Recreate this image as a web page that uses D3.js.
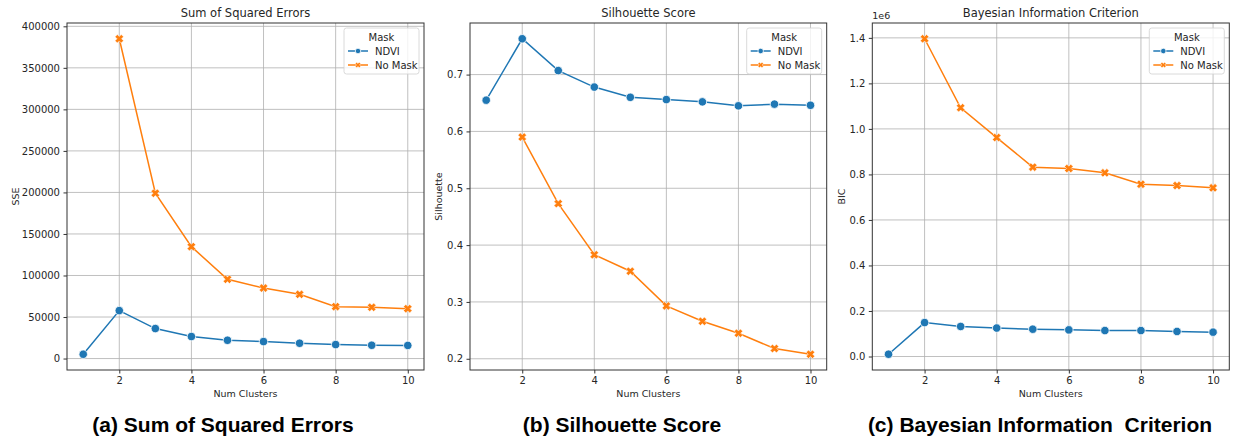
<!DOCTYPE html>
<html>
<head>
<meta charset="utf-8">
<script src="https://cdn.jsdelivr.net/npm/d3@7"></script>
<style>
  body { margin: 0; background: #fff; }
  svg { display: block; }
  text { font-family: "DejaVu Sans", sans-serif; fill: #262626; }
  .caption { font-family: "Liberation Sans", Arial, sans-serif; font-weight: bold; fill: #000; white-space: pre; }
</style>
</head>
<body>
<svg id="container" width="1233" height="439"></svg>
<script>
// ---- data ----
const clusters = [1, 2, 3, 4, 5, 6, 7, 8, 9, 10];
const noMaskClusters = [2, 3, 4, 5, 6, 7, 8, 9, 10];
const xTicks = [2, 4, 6, 8, 10];

const sseNdvi = [5200, 57700, 36100, 26500, 22000, 20400, 18400, 16800, 16000, 15800];
const sseNoMask = [385000, 199000, 134700, 95400, 84900, 77300, 62500, 61700, 60100];
const sseTicks = [0, 50000, 100000, 150000, 200000, 250000, 300000, 350000, 400000];

const silNdvi = [0.655, 0.763, 0.707, 0.678, 0.660, 0.656, 0.652, 0.645, 0.648, 0.646];
const silNoMask = [0.590, 0.473, 0.383, 0.354, 0.293, 0.266, 0.245, 0.218, 0.208];
const silTicks = [0.2, 0.3, 0.4, 0.5, 0.6, 0.7];

// BIC in units of 1e6
const bicNdvi = [0.010, 0.149, 0.132, 0.125, 0.120, 0.117, 0.114, 0.114, 0.110, 0.107];
const bicNoMask = [1.396, 1.093, 0.962, 0.832, 0.826, 0.807, 0.757, 0.751, 0.741];
const bicTicks = [0.0, 0.2, 0.4, 0.6, 0.8, 1.0, 1.2, 1.4];

const seriesNames = ['NDVI', 'No Mask'];
const colors = ['#1f77b4', '#ff7f0e'];

const svg = d3.select('#container');
const plotTop = 23, plotBottom = 370;

const panels = [
  { left: 67, right: 424, title: 'Sum of Squared Errors', ylabel: 'SSE', ylabelX: 19,
    caption: '(a) Sum of Squared Errors', captionX: 223,
    ndvi: sseNdvi, noMask: sseNoMask, ticks: sseTicks, fmt: d3.format('d') },
  { left: 470, right: 826.7, title: 'Silhouette Score', ylabel: 'Silhouette', ylabelX: 442,
    caption: '(b) Silhouette Score', captionX: 622,
    ndvi: silNdvi, noMask: silNoMask, ticks: silTicks, fmt: d3.format('.1f') },
  { left: 872.3, right: 1229.3, title: 'Bayesian Information Criterion', ylabel: 'BIC', ylabelX: 845,
    caption: '(c) Bayesian Information  Criterion', captionX: 1040,
    ndvi: bicNdvi, noMask: bicNoMask, ticks: bicTicks, fmt: d3.format('.1f'), offset: '1e6' },
];

// matplotlib's filled "X" marker
function xMarker(s) {
  const a = s * 0.5, w = s * 0.27;
  const pts = [[0, -w], [a - w, -a], [a, -a + w], [w, 0], [a, a - w], [a - w, a],
               [0, w], [-a + w, a], [-a, a - w], [-w, 0], [-a, -a + w], [-a + w, -a]];
  return 'M' + pts.map(p => p.join(',')).join('L') + 'Z';
}

function drawMarkers(g, pts, i, size) {
  if (i === 0) {
    g.selectAll(null).data(pts).enter().append('circle')
      .attr('cx', d => d[0]).attr('cy', d => d[1]).attr('r', size / 2)
      .attr('fill', colors[0]).attr('stroke', '#fff').attr('stroke-width', 0.8);
  } else {
    g.selectAll(null).data(pts).enter().append('path')
      .attr('transform', d => `translate(${d[0]},${d[1]})`)
      .attr('d', xMarker(size))
      .attr('fill', colors[1]).attr('stroke', '#fff').attr('stroke-width', 0.5);
  }
}

panels.forEach(p => {
  const all = p.ndvi.concat(p.noMask);
  const lo = d3.min(all), hi = d3.max(all), pad = (hi - lo) * 0.05;
  const x = d3.scaleLinear().domain([0.55, 10.45]).range([p.left, p.right]);
  const y = d3.scaleLinear().domain([lo - pad, hi + pad]).range([plotBottom, plotTop]);
  const g = svg.append('g');

  // grid
  g.selectAll(null).data(xTicks).enter().append('line')
    .attr('x1', d => x(d)).attr('x2', d => x(d)).attr('y1', plotTop).attr('y2', plotBottom)
    .attr('stroke', '#b0b0b0').attr('stroke-width', 0.8);
  g.selectAll(null).data(p.ticks).enter().append('line')
    .attr('y1', d => y(d)).attr('y2', d => y(d)).attr('x1', p.left).attr('x2', p.right)
    .attr('stroke', '#b0b0b0').attr('stroke-width', 0.8);

  // axes
  const xa = g.append('g').attr('transform', `translate(0,${plotBottom})`)
    .call(d3.axisBottom(x).tickValues(xTicks).tickSize(3.5).tickPadding(3.5).tickFormat(d3.format('d')));
  const ya = g.append('g').attr('transform', `translate(${p.left},0)`)
    .call(d3.axisLeft(y).tickValues(p.ticks).tickSize(3.5).tickPadding(3.5).tickFormat(p.fmt));
  [xa, ya].forEach(a => {
    a.select('.domain').remove();
    a.selectAll('line').attr('stroke', '#333');
    a.selectAll('text').style('font-size', '10px').style('font-family', '"DejaVu Sans", sans-serif').attr('fill', '#262626');
  });

  // lines + markers
  const line = d3.line().x(d => d[0]).y(d => d[1]);
  const ptsN = clusters.map((c, k) => [x(c), y(p.ndvi[k])]);
  const ptsM = noMaskClusters.map((c, k) => [x(c), y(p.noMask[k])]);
  g.append('path').attr('d', line(ptsN)).attr('fill', 'none').attr('stroke', colors[0]).attr('stroke-width', 1.5);
  g.append('path').attr('d', line(ptsM)).attr('fill', 'none').attr('stroke', colors[1]).attr('stroke-width', 1.5);
  drawMarkers(g, ptsN, 0, 8.5);
  drawMarkers(g, ptsM, 1, 8.5);

  // frame
  g.append('rect').attr('x', p.left).attr('y', plotTop).attr('width', p.right - p.left).attr('height', plotBottom - plotTop)
    .attr('fill', 'none').attr('stroke', '#333').attr('stroke-width', 1);

  // texts
  g.append('text').attr('x', (p.left + p.right) / 2).attr('y', 17).attr('text-anchor', 'middle')
    .style('font-size', '11.5px').text(p.title);
  g.append('text').attr('x', (p.left + p.right) / 2).attr('y', 397).attr('text-anchor', 'middle')
    .style('font-size', '9.5px').text('Num Clusters');
  g.append('text').attr('transform', `translate(${p.ylabelX},${(plotTop + plotBottom) / 2}) rotate(-90)`)
    .attr('text-anchor', 'middle').style('font-size', '9.5px').text(p.ylabel);
  if (p.offset) {
    g.append('text').attr('x', p.left).attr('y', 19).style('font-size', '9.5px').text(p.offset);
  }
  svg.append('text').attr('class', 'caption').attr('x', p.captionX).attr('y', 432)
    .attr('text-anchor', 'middle').style('font-size', '21px').text(p.caption);

  // legend
  const lx = p.right - 80, ly = plotTop + 5;
  const lg = g.append('g').attr('transform', `translate(${lx},${ly})`);
  lg.append('rect').attr('width', 75).attr('height', 46).attr('rx', 2.5)
    .attr('fill', '#fff').attr('fill-opacity', 0.8).attr('stroke', '#d0d0d0').attr('stroke-width', 0.8);
  lg.append('text').attr('x', 37.5).attr('y', 12.5).attr('text-anchor', 'middle').style('font-size', '10px').text('Mask');
  seriesNames.forEach((name, i) => {
    const yy = 23 + i * 14;
    lg.append('line').attr('x1', 4).attr('x2', 24).attr('y1', yy).attr('y2', yy)
      .attr('stroke', colors[i]).attr('stroke-width', 1.5);
    drawMarkers(lg, [[14, yy]], i, 5.5);
    lg.append('text').attr('x', 31).attr('y', yy + 3.6).style('font-size', '10px').text(name);
  });
});
</script>
</body>
</html>
